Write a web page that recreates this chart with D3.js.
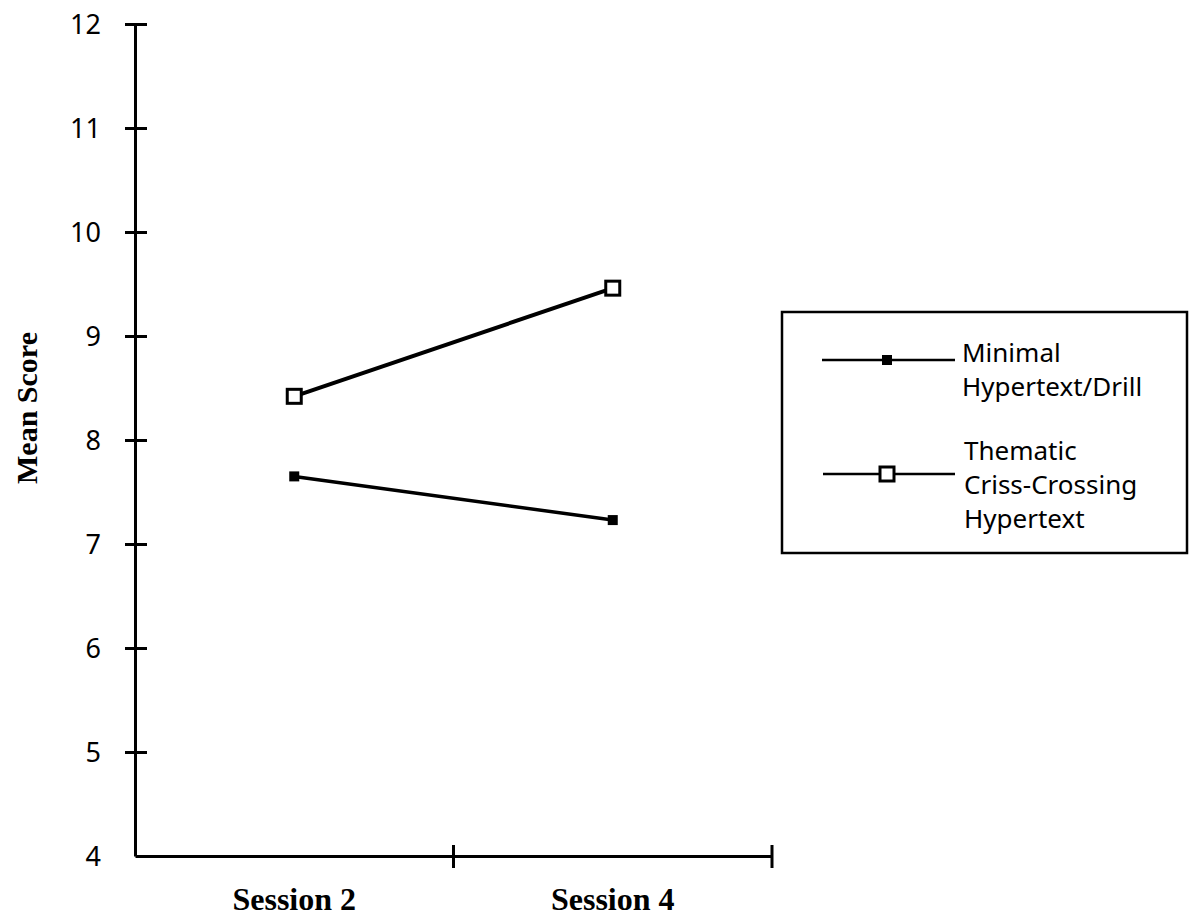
<!DOCTYPE html>
<html>
<head>
<meta charset="utf-8">
<script src="https://cdn.jsdelivr.net/npm/d3@7"></script>
<style>
  body { margin: 0; background: #fff; }
  svg { display: block; }
</style>
</head>
<body>
<svg id="chart"></svg>
<script>
const width = 1191,
      height = 919;

// data
const sessions = ["Session 2", "Session 4"];
const minimalScores = [7.65, 7.23];
const thematicScores = [8.42, 9.46];
const yTicks = [4, 5, 6, 7, 8, 9, 10, 11, 12];
const legendMinimal = ["Minimal", "Hypertext/Drill"];
const legendThematic = ["Thematic", "Criss-Crossing", "Hypertext"];

const sans = "'Noto Sans', sans-serif";
const serif = "'Liberation Serif', 'Times New Roman', serif";

const svg = d3.select("#chart")
  .attr("width", width)
  .attr("height", height);

const x = d3.scaleBand()
  .domain(sessions)
  .range([135, 772]);

const y = d3.scaleLinear()
  .domain([4, 12])
  .range([856, 24]);

// y axis
const yAxis = svg.append("g")
  .attr("transform", "translate(135,0)")
  .call(d3.axisLeft(y).tickValues(yTicks).tickSizeOuter(0).tickFormat(d3.format("d")));

yAxis.select(".domain").attr("stroke", "#000").attr("stroke-width", 3);
yAxis.selectAll(".tick line")
  .attr("x1", -10)
  .attr("x2", 12)
  .attr("stroke", "#000")
  .attr("stroke-width", 3);
yAxis.selectAll(".tick text")
  .attr("x", -34)
  .attr("dy", "0.35em")
  .attr("font-family", sans)
  .attr("font-size", 27)
  .attr("fill", "#000");
yAxis.selectAll(".tick").filter(d => d === 4).select("line").remove();

// x axis
const xAxis = svg.append("g")
  .attr("transform", "translate(0,856)")
  .call(d3.axisBottom(x).tickSize(0).tickSizeOuter(0));

xAxis.select(".domain").attr("stroke", "#000").attr("stroke-width", 3);
xAxis.selectAll(".tick text")
  .attr("y", 54)
  .attr("dy", 0)
  .attr("font-family", serif)
  .attr("font-weight", "bold")
  .attr("font-size", 32)
  .attr("fill", "#000");

xAxis.selectAll("line.sep")
  .data(sessions)
  .join("line")
  .attr("class", "sep")
  .attr("x1", d => x(d) + x.bandwidth())
  .attr("x2", d => x(d) + x.bandwidth())
  .attr("y1", -11)
  .attr("y2", 12)
  .attr("stroke", "#000")
  .attr("stroke-width", 3);

// y label
svg.append("text")
  .attr("transform", "translate(37,408) rotate(-90)")
  .attr("text-anchor", "middle")
  .attr("font-family", serif)
  .attr("font-weight", "bold")
  .attr("font-size", 30)
  .text("Mean Score");

const cx = d => x(d) + x.bandwidth() / 2;

const line = d3.line()
  .x((d, i) => cx(sessions[i]))
  .y(d => y(d));

// minimal hypertext / drill
svg.append("path")
  .datum(minimalScores)
  .attr("d", line)
  .attr("fill", "none")
  .attr("stroke", "#000")
  .attr("stroke-width", 3.5);

svg.selectAll("rect.minimal")
  .data(minimalScores)
  .join("rect")
  .attr("class", "minimal")
  .attr("x", (d, i) => cx(sessions[i]) - 5)
  .attr("y", d => y(d) - 5)
  .attr("width", 10)
  .attr("height", 10)
  .attr("fill", "#000");

// thematic criss-crossing
svg.append("path")
  .datum(thematicScores)
  .attr("d", line)
  .attr("fill", "none")
  .attr("stroke", "#000")
  .attr("stroke-width", 4);

svg.selectAll("rect.thematic")
  .data(thematicScores)
  .join("rect")
  .attr("class", "thematic")
  .attr("x", (d, i) => cx(sessions[i]) - 7)
  .attr("y", d => y(d) - 7)
  .attr("width", 14)
  .attr("height", 14)
  .attr("fill", "#fff")
  .attr("stroke", "#000")
  .attr("stroke-width", 3);

// legend
const legend = svg.append("g");

legend.append("rect")
  .attr("x", 782)
  .attr("y", 312)
  .attr("width", 405)
  .attr("height", 241)
  .attr("fill", "none")
  .attr("stroke", "#000")
  .attr("stroke-width", 2.5);

legend.append("line")
  .attr("x1", 822).attr("x2", 955)
  .attr("y1", 360).attr("y2", 360)
  .attr("stroke", "#000")
  .attr("stroke-width", 2.5);
legend.append("rect")
  .attr("x", 882).attr("y", 355)
  .attr("width", 10).attr("height", 10)
  .attr("fill", "#000");

legend.append("line")
  .attr("x1", 823).attr("x2", 955)
  .attr("y1", 474).attr("y2", 474)
  .attr("stroke", "#000")
  .attr("stroke-width", 2.5);
legend.append("rect")
  .attr("x", 880).attr("y", 467)
  .attr("width", 14).attr("height", 14)
  .attr("fill", "#fff")
  .attr("stroke", "#000")
  .attr("stroke-width", 3);

legend.selectAll("text.lm")
  .data(legendMinimal)
  .join("text")
  .attr("class", "lm")
  .attr("x", 962)
  .attr("y", (d, i) => 362 + i * 34)
  .attr("font-family", sans)
  .attr("font-size", 26)
  .text(d => d);

legend.selectAll("text.lt")
  .data(legendThematic)
  .join("text")
  .attr("class", "lt")
  .attr("x", 964)
  .attr("y", (d, i) => 460 + i * 34)
  .attr("font-family", sans)
  .attr("font-size", 26)
  .text(d => d);
</script>
</body>
</html>
